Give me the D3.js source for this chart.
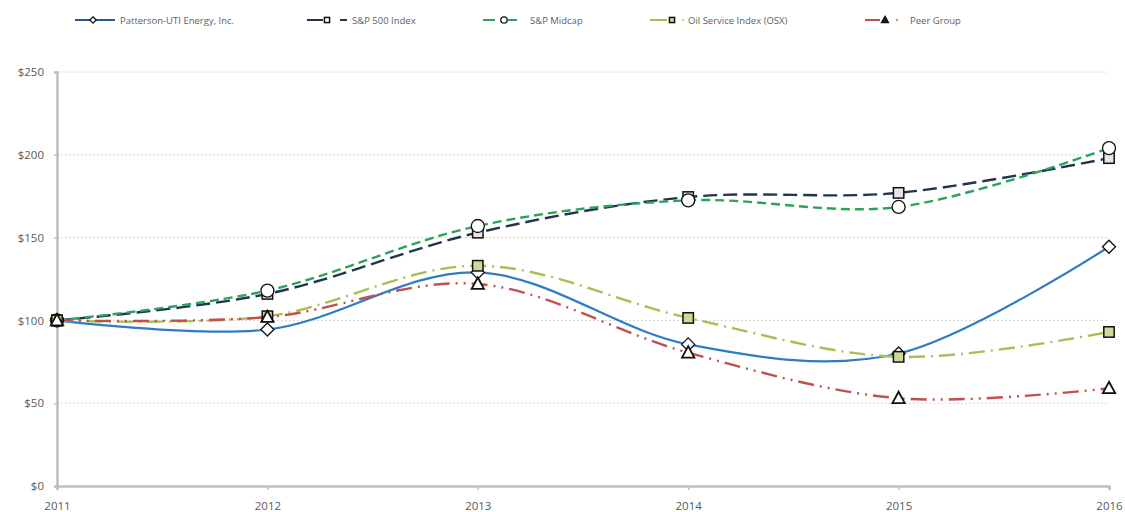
<!DOCTYPE html>
<html><head><meta charset="utf-8">
<script src="https://cdn.jsdelivr.net/npm/d3@7"></script>
<style>body{margin:0;background:#fff;} svg{display:block;}</style>
</head><body>
<svg id="c" width="1125" height="512"></svg>
<script>
const years = [2011, 2012, 2013, 2014, 2015, 2016];
const yTicks = [0, 50, 100, 150, 200, 250];
const seriesNames = ["Patterson-UTI Energy, Inc.", "S&P 500 Index", "S&P Midcap", "Oil Service Index (OSX)", "Peer Group"];
const patterson = [100, 94.5, 129, 85.5, 80, 144.5];
const sp500 = [100, 116, 153, 174.5, 177, 198];
const midcap = [100, 118, 157, 172.5, 168.5, 204];
const osx = [100, 102.5, 133, 101.5, 78, 93];
const peer = [100, 102, 122, 80.5, 53, 59];

const styles = [
  {color:"#2f7bc4", dash:null, width:2.2, marker:"diamond", fill:"#ffffff", lx:[75,115], mx:93, tx:120},
  {color:"#1f3550", dash:"14,6", width:2.4, marker:"square", fill:"#e6e6e6", lx:[307,323], mx:327, tx:352, extra:[340,347]},
  {color:"#2ca35a", dash:"9,5", width:2.4, marker:"circle", fill:"#ffffff", lx:[483,495], mx:504, tx:530, extra:[508,517]},
  {color:"#a9bf55", dash:"16,6,2,6", width:2.4, marker:"square", fill:"#cfd99a", lx:[650,667], mx:672, tx:688, dot:683},
  {color:"#c0504d", dash:"16,6,2,6,2,6", width:2.4, marker:"triangle", fill:"#ffffff", lx:[865,880], mx:885, tx:910, dot:897}
];
const data = [patterson, sp500, midcap, osx, peer];

const svg = d3.select("#c");
const x = d3.scaleLinear().domain([2011, 2016]).range([57, 1109]);
const y = d3.scaleLinear().domain([0, 250]).range([486, 72]);

// gridlines
svg.append("g").selectAll("line").data(yTicks.filter(d=>d>0)).join("line")
  .attr("x1", x(2011)).attr("x2", x(2016)).attr("y1", d=>y(d)).attr("y2", d=>y(d))
  .attr("stroke", "#d4d4d4").attr("stroke-width", 1).attr("stroke-dasharray", "2,2");

// axes
const yAxis = d3.axisLeft(y).tickValues(yTicks).tickFormat(d=>"$"+d).tickSize(3).tickPadding(10);
const gy = svg.append("g").attr("transform", `translate(${x(2011)},0)`).call(yAxis);
const xAxis = d3.axisBottom(x).tickValues(years).tickFormat(d3.format("d")).tickSize(4).tickPadding(12);
const gx = svg.append("g").attr("transform", `translate(0,${y(0)})`).call(xAxis);
[gx, gy].forEach(g=>{
  g.select(".domain").attr("stroke", "#bfbfbf").attr("stroke-width", 2.5);
  g.selectAll(".tick line").attr("stroke", "#bfbfbf").attr("stroke-width", 1.5);
  g.selectAll("text").attr("fill", "#595959").style("font-family", "'Open Sans', sans-serif").style("font-size", "11.5px");
});

const line = d3.line().x((d,i)=>x(years[i])).y(d=>y(d)).curve(d3.curveCardinal.tension(0));

function marker(g, type, cx, cy, fill, s) {
  if (type === "diamond") {
    g.append("path").attr("d", `M${cx},${cy-s}L${cx+s},${cy}L${cx},${cy+s}L${cx-s},${cy}Z`)
      .attr("fill", fill).attr("stroke", "#111").attr("stroke-width", 1.3);
  } else if (type === "square") {
    g.append("rect").attr("x", cx-s*0.8).attr("y", cy-s*0.8).attr("width", s*1.6).attr("height", s*1.6)
      .attr("fill", fill).attr("stroke", "#111").attr("stroke-width", 1.5);
  } else if (type === "circle") {
    g.append("circle").attr("cx", cx).attr("cy", cy).attr("r", s)
      .attr("fill", fill).attr("stroke", "#111").attr("stroke-width", 1.3);
  } else if (type === "triangle") {
    g.append("path").attr("d", `M${cx},${cy-s}L${cx+s*0.95},${cy+s*0.75}L${cx-s*0.95},${cy+s*0.75}Z`)
      .attr("fill", fill).attr("stroke", "#111").attr("stroke-width", 1.8);
  }
}

// series lines
data.forEach((vals, k)=>{
  const st = styles[k];
  svg.append("path").attr("d", line(vals)).attr("fill", "none")
    .attr("stroke", st.color).attr("stroke-width", st.width)
    .attr("stroke-dasharray", st.dash);
});
// markers (drawn after all lines)
data.forEach((vals, k)=>{
  const st = styles[k];
  const g = svg.append("g");
  vals.forEach((v,i)=>marker(g, st.marker, x(years[i]), y(v), st.fill, 6.5));
});

// legend
const ly = 20;
const lg = svg.append("g");
seriesNames.forEach((name, k)=>{
  const st = styles[k];
  lg.append("line").attr("x1", st.lx[0]).attr("x2", st.lx[1]).attr("y1", ly).attr("y2", ly)
    .attr("stroke", st.color).attr("stroke-width", 2);
  if (k===0) {
    lg.append("line").attr("x1", st.lx[0]).attr("x2", st.lx[1]).attr("y1", ly).attr("y2", ly)
      .attr("stroke", "#1f4f80").attr("stroke-width", 1.6);
  }
  if (st.extra) {
    lg.append("line").attr("x1", st.extra[0]).attr("x2", st.extra[1]).attr("y1", ly).attr("y2", ly)
      .attr("stroke", st.color).attr("stroke-width", 2);
  }
  if (st.dot) {
    lg.append("circle").attr("cx", st.dot).attr("cy", ly).attr("r", 0.9).attr("fill", st.color);
  }
  marker(lg, st.marker, st.mx, ly, st.marker==="square"? (k===3?"#cfd99a":"#ffffff") : (k===4?"#222":"#ffffff"), 3.2);
  lg.append("text").attr("x", st.tx).attr("y", ly+3.5).text(name)
    .attr("fill", "#606060").style("font-family", "'Open Sans', sans-serif").style("font-size", "9.5px");
});
</script>
</body></html>
